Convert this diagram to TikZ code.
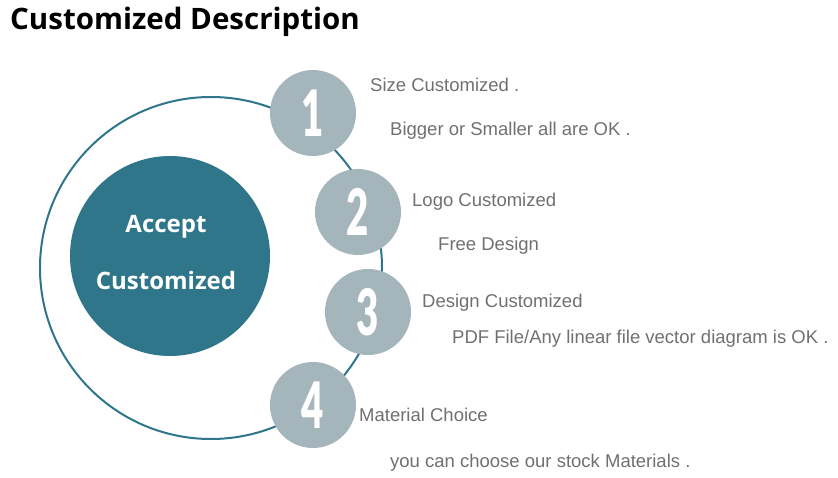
\documentclass[tikz,border=0pt]{standalone}
\usepackage{fontspec}
\setmainfont{Liberation Sans}
\newfontfamily\headfont{Open Sans}
\newfontfamily\digitfont{Lato Black}
\usetikzlibrary{positioning}
\definecolor{tealblue}{HTML}{2F768A}
\definecolor{dotgray}{HTML}{A5B5BC}
\definecolor{txtgray}{HTML}{707070}

\begin{document}
\begin{tikzpicture}[x=1pt, y=-1pt,
  orbit/.style={circle, draw=tealblue, line width=2pt, minimum size=342pt, inner sep=0pt},
  core/.style={circle, fill=tealblue, minimum size=200pt, inner sep=0pt},
  coretext/.style={text=white, align=center, inner sep=0pt,
    font=\headfont\bfseries\fontsize{24}{57}\selectfont},
  numdot/.style={circle, fill=dotgray, minimum size=86pt, inner sep=0pt, text=white,
    font=\digitfont\fontsize{64}{64}\selectfont},
  desc/.style={anchor=base west, inner sep=0pt, text=txtgray, font=\fontsize{18.5}{18.5}\selectfont}]
\useasboundingbox (0,0) rectangle (838,478);
\node[anchor=base west, inner sep=0pt, font=\headfont\bfseries\fontsize{29.5}{29.5}\selectfont] (title) at (10,30) {Customized Description};
% rings
\node[orbit] (ring) at (211,268) {};
\node[core] (accept) at (170,256) {};
\node[coretext] (accepttxt) at (166,253) {Accept\\Customized};
% numbered dots
\node[numdot] (n1) at (313,113) {\scalebox{0.6}[1]{1}};
\node[numdot] (n2) at (358,212) {\scalebox{0.6}[1]{2}};
\node[numdot] (n3) at (368,312) {\scalebox{0.6}[1]{3}};
\node[numdot] (n4) at (313,405) {\scalebox{0.6}[1]{4}};
% descriptions
\node[desc] (d1a) at (370,92) {Size Customized .};
\node[desc] (d1b) at (390,136) {Bigger or Smaller all are OK .};
\node[desc] (d2a) at (412,207) {Logo Customized};
\node[desc] (d2b) at (438,251) {Free Design};
\node[desc] (d3a) at (422,308) {Design Customized};
\node[desc] (d3b) at (452,343) {PDF File/Any linear file vector diagram is OK .};
\node[desc] (d4a) at (359,421) {Material Choice};
\node[desc] (d4b) at (390,467) {you can choose our stock Materials .};
\end{tikzpicture}
\end{document}
